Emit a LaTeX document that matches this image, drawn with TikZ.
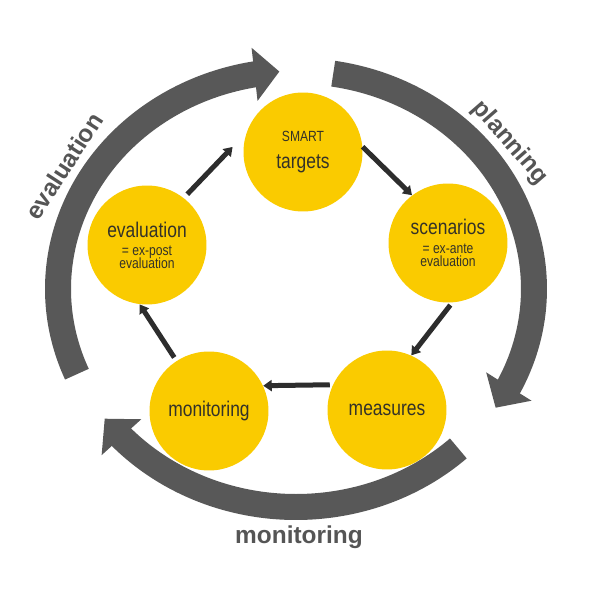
\documentclass[tikz,border=0pt]{standalone}
\usepackage{fontspec}
\setmainfont{Liberation Sans}
\newfontfamily\narrowsans[FakeStretch=0.82]{Liberation Sans}
\usepackage{xcolor}
\usepackage{tikz}
\usetikzlibrary{arrows.meta,bending}
\definecolor{ringgray}{RGB}{88,88,88}
\definecolor{flowdark}{RGB}{45,45,45}
\definecolor{stageyellow}{RGB}{250,203,0}
\definecolor{stagetext}{RGB}{52,50,40}
\definecolor{lblgray}{RGB}{85,85,85}
\newcommand\bigstage{\fontsize{12.1}{0}\selectfont}

\begin{document}
\begin{tikzpicture}[
        x=0.02cm,y=0.02cm,
        stage/.style={circle,fill=stageyellow,minimum size=2.38cm,inner sep=0pt,
                      align=center,text=stagetext,
                      font={\narrowsans\fontsize{8.4}{0}\selectfont\lineskiplimit-100pt\relax}},
        ring/.style={ringgray,line width=0.52cm,-{Triangle[length=0.5cm,width=1.04cm]}},
        flow/.style={flowdark,line width=0.1cm,-{Triangle[length=0.17cm,width=0.22cm]}},
        ringlbl/.style={font=\fontsize{13.9}{16}\selectfont\bfseries,text=lblgray,inner sep=0pt},
      ]
        \useasboundingbox[fill=white](0,0)rectangle(600,600);
        \coordinate(ctr)at(296,311);
        \draw[ring]([shift={(203:238 and 218)}]ctr)
          arc[start angle=203,end angle=94,x radius=238,y radius=218];
        \draw[ring]([shift={(81:238 and 218)}]ctr)
          arc[start angle=81,end angle=-33,x radius=238,y radius=218];
        \draw[ring]([shift={(313:238 and 218)}]ctr)
          arc[start angle=313,end angle=216.5,x radius=238,y radius=218];
        \node[ringlbl,rotate=57](lblEval)at(64,434){evaluation};
        \node[ringlbl,rotate=-49](lblPlan)at(510,457){planning};
        \node[ringlbl](lblMon)at(299,63){monitoring};
        \node[stage](tgt)at(303,448){SMART\\[15.4pt]{\bigstage targets}};
        \node[stage](scn)at(448,357){{\bigstage scenarios}\\[10.8pt]= ex-ante\\[7.2pt]evaluation};
        \node[stage](mea)at(387,190){\bigstage measures};
        \node[stage](mon)at(209,189){\bigstage monitoring};
        \node[stage](eval)at(147,355){{\bigstage evaluation}\\[10.2pt]= ex-post\\[7.4pt]evaluation};
        \draw[flow,shorten <=0.1cm,shorten >=0.4cm](eval.52)--(tgt.161);
        \draw[flow](tgt.5)--(scn.127);
        \draw[flow,shorten <=0.06cm](scn.-86)--(mea.66);
        \draw[flow,shorten <=0.06cm](mea.155)--(mon.25);
        \draw[flow,shorten <=0.08cm](mon.123)--(eval.-97);
      \end{tikzpicture}
\end{document}
